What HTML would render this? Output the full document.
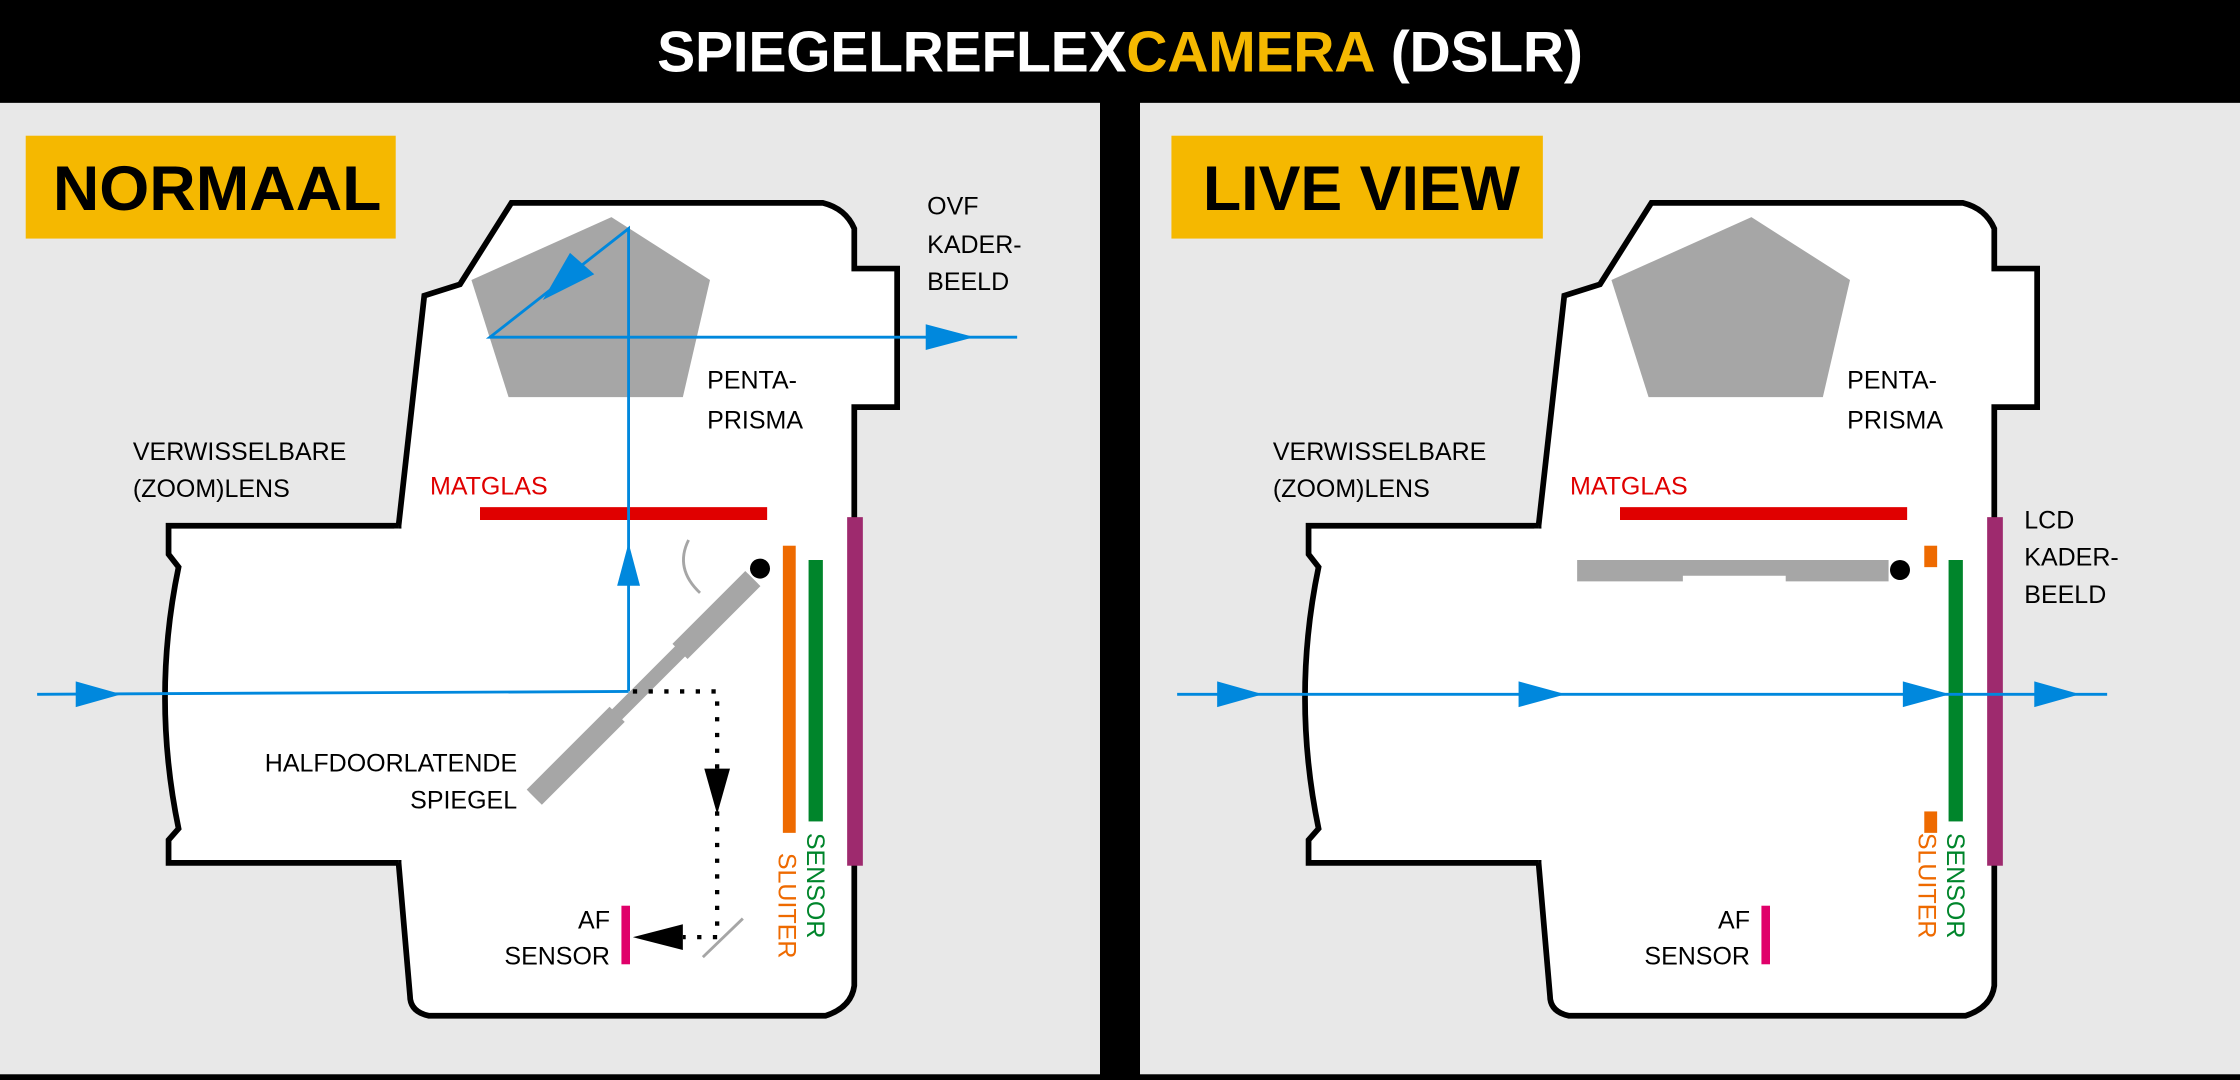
<!DOCTYPE html>
<html><head><meta charset="utf-8"><style>
html,body{margin:0;padding:0;background:#000}
svg{display:block}
text{font-family:"Liberation Sans",sans-serif}
</style></head><body>
<svg width="2240" height="1080" viewBox="0 0 1568 756" xmlns="http://www.w3.org/2000/svg">
<defs>
<g id="body">
<path d="M279,397 L279,368 L297,207 L322,199 L358,142 L576,142 Q592,146 598,160 L598,188 L628,188 L628,285 L598,285 L598,690 Q596,705 578,711 L300,711 Q287,708 287,697 L279,604 L279,578" fill="#fff" stroke="#000" stroke-width="4"/>
<path d="M279,368 L118,368 L118,388 L125,397 Q106,488 125,580 L118,588 L118,604 L279,604" fill="#fff" stroke="#000" stroke-width="4"/>
<rect x="276" y="370" width="8" height="232" fill="#fff"/>
<polygon points="330,196 428,152 497,196 478,278 356,278" fill="#a6a6a6"/>
<rect x="336" y="355" width="201" height="9" fill="#e00000"/>
<rect x="566" y="392" width="10" height="183" fill="#00852b"/>
<rect x="593" y="362" width="11" height="244" fill="#9e2a6e"/>
<rect x="435" y="634" width="6" height="41" fill="#e0006a"/>
<g font-size="17.5" fill="#000">
<text x="93" y="322">VERWISSELBARE</text>
<text x="93" y="348">(ZOOM)LENS</text>
<text x="495" y="272">PENTA-</text>
<text x="495" y="300">PRISMA</text>
<text x="427" y="650" text-anchor="end">AF</text>
<text x="427" y="675" text-anchor="end">SENSOR</text>
<text x="301" y="346" fill="#e00000">MATGLAS</text>
</g>
</g>
</defs>
<rect x="0" y="0" width="1568" height="756" fill="#000"/>
<rect x="0" y="72" width="770" height="680" fill="#e8e8e8"/>
<rect x="798" y="72" width="770" height="680" fill="#e8e8e8"/>
<text x="784" y="50" text-anchor="middle" font-size="40" font-weight="bold" fill="#fff" textLength="648" lengthAdjust="spacing">SPIEGELREFLEX<tspan fill="#f5b800">CAMERA</tspan> (DSLR)</text>

<!-- LEFT -->
<rect x="18" y="95" width="259" height="72" fill="#f5b800"/>
<text x="37" y="147" font-size="44" font-weight="bold" fill="#000" textLength="230" lengthAdjust="spacingAndGlyphs">NORMAAL</text>
<use href="#body"/>
<rect x="548" y="382" width="9" height="201" fill="#ee6a00"/>
<circle cx="532" cy="398" r="7" fill="#000"/>
<path d="M482,378 Q472,398 490,415" fill="none" stroke="#a6a6a6" stroke-width="2"/>
<line x1="527" y1="405" x2="374" y2="558" stroke="#a6a6a6" stroke-width="10"/>
<line x1="527" y1="405" x2="476" y2="456" stroke="#a6a6a6" stroke-width="15"/>
<line x1="432" y1="500" x2="374" y2="558" stroke="#a6a6a6" stroke-width="15"/>
<line x1="492" y1="670" x2="520" y2="643" stroke="#a6a6a6" stroke-width="2"/>
<g fill="none" stroke="#0088dd" stroke-width="2">
<line x1="26" y1="486" x2="440" y2="484"/>
<polyline points="440,484 440,160 343,236 712,236"/>
</g>
<g fill="#0088dd">
<polygon points="53,477 53,495 85,486"/>
<polygon points="432,410 448,410 440,380"/>
<polygon points="648,227 648,245 682,236"/>
<polygon points="380,210 399,177 416,192"/>
</g>
<polyline points="443,484 502,484 502,656 478,656" fill="none" stroke="#000" stroke-width="3" stroke-dasharray="3,8"/>
<polygon points="493,538 511,538 502,570" fill="#000"/>
<polygon points="478,647 478,665 443,656" fill="#000"/>
<g font-size="17.5">
<text x="649" y="150">OVF</text>
<text x="649" y="177">KADER-</text>
<text x="649" y="203">BEELD</text>
<text x="362" y="540" text-anchor="end">HALFDOORLATENDE</text>
<text x="362" y="566" text-anchor="end">SPIEGEL</text>
<text transform="translate(545,597) rotate(90)" fill="#ee6a00">SLUITER</text>
<text transform="translate(565,583) rotate(90)" fill="#00852b">SENSOR</text>
</g>

<!-- RIGHT -->
<rect x="820" y="95" width="260" height="72" fill="#f5b800"/>
<text x="842" y="147" font-size="44" font-weight="bold" fill="#000" textLength="222" lengthAdjust="spacingAndGlyphs">LIVE VIEW</text>
<use href="#body" x="798"/>
<rect x="1347" y="382" width="9" height="15" fill="#ee6a00"/>
<rect x="1347" y="568" width="9" height="15" fill="#ee6a00"/>
<polygon points="1104,392 1322,392 1322,407 1250,407 1250,403 1178,403 1178,407 1104,407" fill="#a6a6a6"/>
<circle cx="1330" cy="399" r="7" fill="#000"/>
<line x1="824" y1="486" x2="1475" y2="486" stroke="#0088dd" stroke-width="2"/>
<g fill="#0088dd">
<polygon points="852,477 852,495 884,486"/>
<polygon points="1063,477 1063,495 1096,486"/>
<polygon points="1332,477 1332,495 1365,486"/>
<polygon points="1424,477 1424,495 1456,486"/>
</g>
<g font-size="17.5">
<text x="1417" y="370">LCD</text>
<text x="1417" y="396">KADER-</text>
<text x="1417" y="422">BEELD</text>
<text transform="translate(1343,583) rotate(90)" fill="#ee6a00">SLUITER</text>
<text transform="translate(1363,583) rotate(90)" fill="#00852b">SENSOR</text>
</g>
</svg>
</body></html>
